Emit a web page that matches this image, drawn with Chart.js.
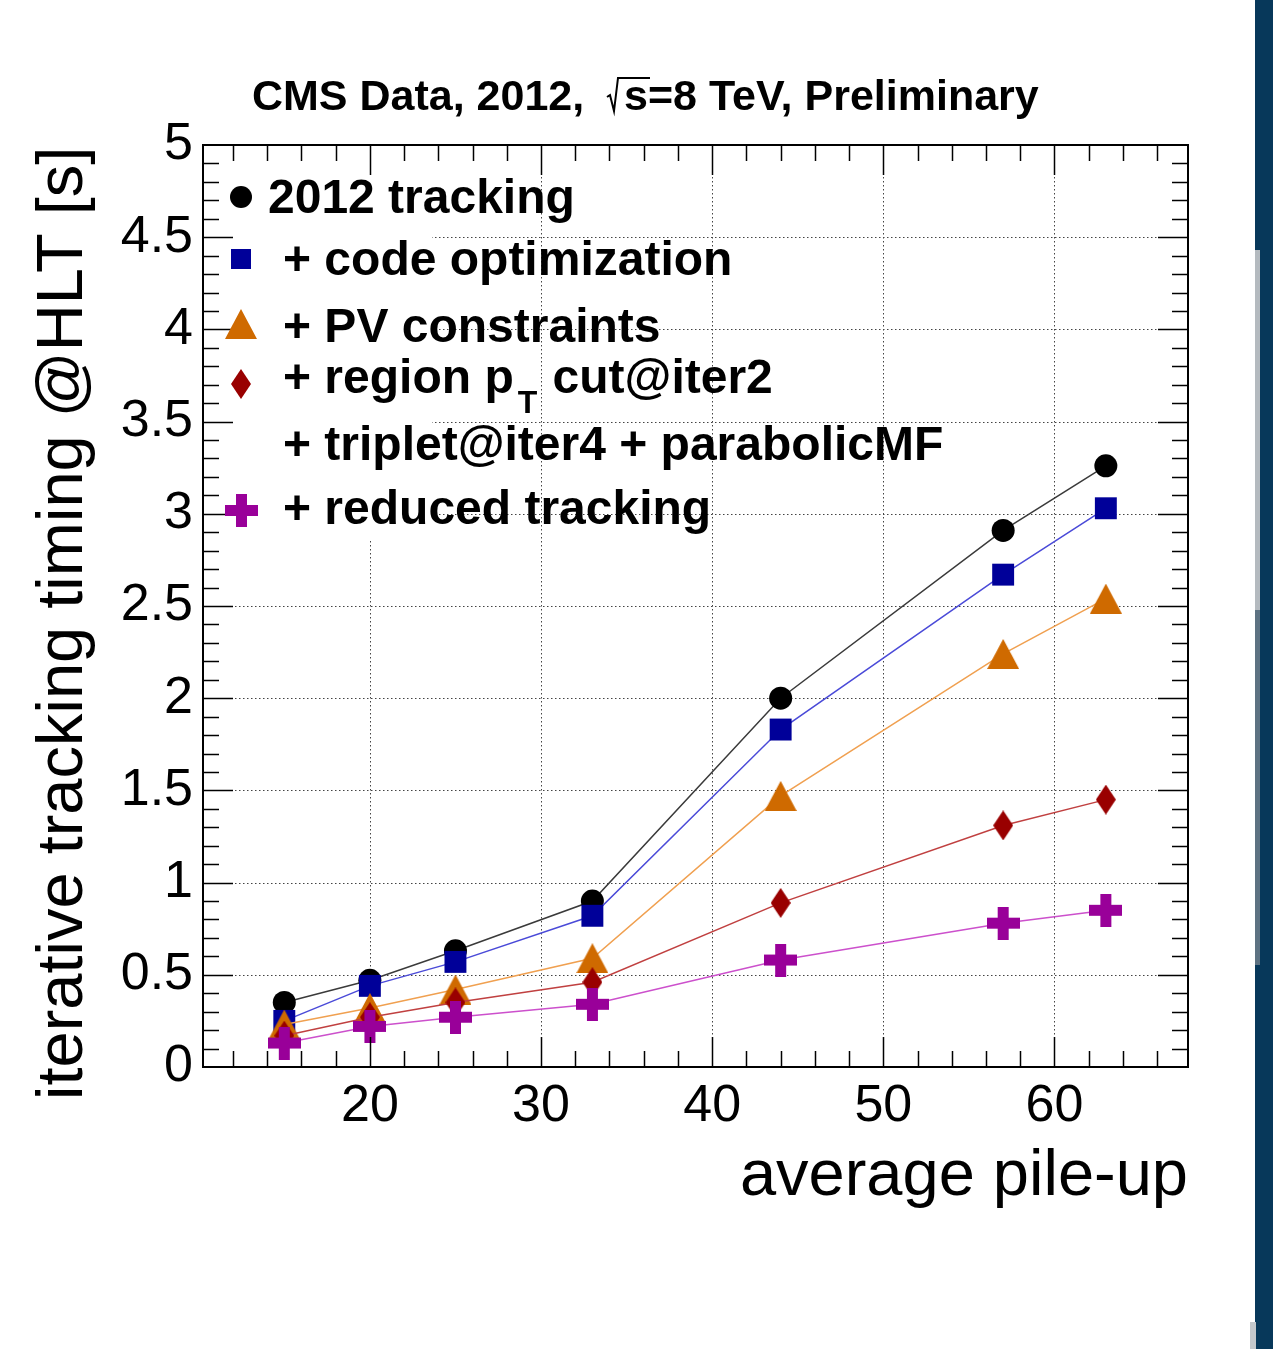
<!DOCTYPE html>
<html>
<head>
<meta charset="utf-8">
<title>Iterative tracking timing @HLT</title>
<script src="https://cdn.jsdelivr.net/npm/chart.js@4.4.0/dist/chart.umd.min.js"></script>
<style>
  html, body { margin: 0; padding: 0; background: #fff; }
  #wrap { position: relative; width: 1273px; height: 1349px; overflow: hidden; background: #fff; }
  #plot { position: absolute; left: 0; top: 0; }
  .strip { position: absolute; left: 1255px; top: 0; width: 18px; height: 1349px; background: #07385a; }
  .thumb1 { position: absolute; left: 1255px; top: 250px; width: 5px; height: 360px; background: #b4babf; }
  .thumb2 { position: absolute; left: 1255px; top: 610px; width: 5px; height: 355px; background: #5d7282; }
  .thumb3 { position: absolute; left: 1250px; top: 1322px; width: 6px; height: 27px; background: #c4c8cc; }
</style>
</head>
<body>
<div id="wrap">
  <canvas id="plot" width="1255" height="1349"></canvas>
  <div class="strip"></div>
  <div class="thumb1"></div>
  <div class="thumb2"></div>
  <div class="thumb3"></div>
</div>
<script>
// data
const pileUp = [15, 20, 25, 33, 44, 57, 63];
const tracking2012 = [0.35, 0.47, 0.63, 0.90, 2.00, 2.91, 3.26];
const codeOptim = [0.25, 0.44, 0.57, 0.82, 1.83, 2.67, 3.03];
const pvConstraints = [0.23, 0.32, 0.42, 0.59, 1.47, 2.24, 2.54];
const regionPtCut = [0.17, 0.27, 0.35, 0.46, 0.89, 1.31, 1.45];
const reducedTracking = [0.13, 0.22, 0.27, 0.34, 0.58, 0.78, 0.85];

const xTicks = [20, 30, 40, 50, 60];
const yTicks = [0, 0.5, 1, 1.5, 2, 2.5, 3, 3.5, 4, 4.5, 5];

const FONT = '"Liberation Sans", Arial, Helvetica, sans-serif';

// marker shapes (ROOT style)
function shape(w, h, fill, draw) {
  const c = document.createElement('canvas');
  c.width = w; c.height = h;
  const g = c.getContext('2d');
  g.fillStyle = fill;
  draw(g, w, h);
  return c;
}
const triangle = shape(32, 30, '#cf6a00', (g, w, h) => {
  g.beginPath(); g.moveTo(w / 2, 0); g.lineTo(w, h); g.lineTo(0, h); g.closePath(); g.fill();
});
const diamond = shape(20, 30, '#990000', (g, w, h) => {
  g.beginPath(); g.moveTo(w / 2, 0); g.lineTo(w, h / 2); g.lineTo(w / 2, h); g.lineTo(0, h / 2); g.closePath(); g.fill();
});
const cross = shape(33, 33, '#990099', (g, w, h) => {
  const t = 11;
  g.fillRect((w - t) / 2, 0, t, h);
  g.fillRect(0, (h - t) / 2, w, t);
});

function pts(ys) { return pileUp.map((x, i) => ({ x: x, y: ys[i] })); }

const series = [
  { label: '2012 tracking', data: tracking2012, line: '#3a3a3a', fill: '#000000', style: 'circle', r: 11.5 },
  { label: '+ code optimization', data: codeOptim, line: '#4a4ad8', fill: '#000099', style: 'rect', r: 15.5 },
  { label: '+ PV constraints', data: pvConstraints, line: '#f0a050', fill: '#cf6a00', style: triangle, r: 16 },
  { label: '+ region pT cut@iter2', data: regionPtCut, line: '#c04040', fill: '#990000', style: diamond, r: 15 },
  { label: '+ reduced tracking', data: reducedTracking, line: '#cc50cc', fill: '#990099', style: cross, r: 16 }
];

const rootPlugin = {
  id: 'rootPlugin',
  beforeDatasetsDraw(chart) {
    const ctx = chart.ctx, a = chart.chartArea;
    const xs = chart.scales.x, ys = chart.scales.y;
    ctx.save();
    ctx.strokeStyle = '#444';
    ctx.lineWidth = 1;
    ctx.setLineDash([1.5, 2.5]);
    xTicks.forEach(v => {
      const px = Math.round(xs.getPixelForValue(v)) + 0.5;
      ctx.beginPath(); ctx.moveTo(px, a.top); ctx.lineTo(px, a.bottom); ctx.stroke();
    });
    yTicks.slice(1, -1).forEach(v => {
      const py = Math.round(ys.getPixelForValue(v)) + 0.5;
      ctx.beginPath(); ctx.moveTo(a.left, py); ctx.lineTo(a.right, py); ctx.stroke();
    });
    ctx.setLineDash([]);
    // legend box (white) hides the grid behind the markers
    ctx.fillStyle = '#fff';
    ctx.fillRect(a.left, a.top, 432 - a.left, 540 - a.top);
    ctx.restore();
  },
  afterDraw(chart) {
    const ctx = chart.ctx, a = chart.chartArea;
    const xs = chart.scales.x, ys = chart.scales.y;
    ctx.save();
    // ticks on all four sides
    ctx.strokeStyle = '#000';
    ctx.lineWidth = 1.5;
    const major = 30, minor = 16;
    for (let v = 12; v <= 66; v += 2) {
      const px = Math.round(xs.getPixelForValue(v)) + 0.5;
      const len = (v % 10 === 0) ? major : minor;
      ctx.beginPath();
      ctx.moveTo(px, a.bottom); ctx.lineTo(px, a.bottom - len);
      ctx.moveTo(px, a.top); ctx.lineTo(px, a.top + len);
      ctx.stroke();
    }
    for (let k = 1; k < 50; k++) {
      const v = k / 10;
      const py = Math.round(ys.getPixelForValue(v)) + 0.5;
      const len = (k % 5 === 0) ? major : minor;
      ctx.beginPath();
      ctx.moveTo(a.left, py); ctx.lineTo(a.left + len, py);
      ctx.moveTo(a.right, py); ctx.lineTo(a.right - len, py);
      ctx.stroke();
    }
    // frame
    ctx.lineWidth = 2;
    ctx.strokeRect(a.left, a.top, a.right - a.left, a.bottom - a.top);

    // title
    ctx.fillStyle = '#000';
    ctx.textBaseline = 'alphabetic';
    ctx.textAlign = 'left';
    ctx.font = 'bold 43px ' + FONT;
    ctx.fillText('CMS Data, 2012,', 252, 110);
    ctx.fillText('s=8 TeV, Preliminary', 624, 110);
    ctx.lineWidth = 2;
    ctx.beginPath();
    ctx.moveTo(607, 97); ctx.lineTo(610, 95); ctx.lineTo(614, 111);
    ctx.lineTo(618, 78); ctx.lineTo(650, 78);
    ctx.stroke();

    // axis titles
    ctx.font = '65px ' + FONT;
    ctx.textAlign = 'right';
    ctx.fillText('average pile-up', a.right, 1195);
    ctx.save();
    ctx.translate(82, 1100);
    ctx.rotate(-Math.PI / 2);
    ctx.textAlign = 'left';
    ctx.font = '65px ' + FONT;
    ctx.fillText('iterative tracking timing @HLT [s]', 0, 0);
    ctx.restore();

    // legend
    const mx = 241;
    ctx.fillStyle = '#000';
    ctx.beginPath(); ctx.arc(mx, 197, 11, 0, Math.PI * 2); ctx.fill();
    ctx.fillStyle = '#000099';
    ctx.fillRect(mx - 10, 249, 20, 20);
    ctx.drawImage(triangle, mx - 16, 309);
    ctx.drawImage(diamond, mx - 10, 369);
    ctx.drawImage(cross, mx - 16, 494);

    ctx.fillStyle = '#000';
    ctx.textAlign = 'left';
    ctx.font = 'bold 48px ' + FONT;
    ctx.fillText('2012 tracking', 268, 213);
    ctx.fillText('+ code optimization', 283, 275);
    ctx.fillText('+ PV constraints', 283, 342);
    const p1 = '+ region p';
    ctx.fillText(p1, 283, 393);
    let xx = 283 + ctx.measureText(p1).width + 4;
    ctx.font = 'bold 32px ' + FONT;
    ctx.fillText('T', xx, 413);
    xx += ctx.measureText('T').width + 2;
    ctx.font = 'bold 48px ' + FONT;
    ctx.fillText(' cut@iter2', xx, 393);
    ctx.fillText('+ triplet@iter4 + parabolicMF', 283, 460);
    ctx.fillText('+ reduced tracking', 283, 524);
    ctx.restore();
  }
};

new Chart(document.getElementById('plot').getContext('2d'), {
  type: 'scatter',
  data: {
    datasets: series.map((s, i) => ({
      label: s.label,
      data: pts(s.data),
      showLine: true,
      borderColor: s.line,
      borderWidth: 1.5,
      backgroundColor: s.fill,
      pointBackgroundColor: s.fill,
      pointBorderColor: s.fill,
      pointBorderWidth: 0,
      pointStyle: s.style,
      pointRadius: s.r,
      pointHoverRadius: s.r,
      order: series.length - i
    }))
  },
  options: {
    responsive: false,
    animation: false,
    devicePixelRatio: 1,
    layout: { padding: { top: 145, right: 67, left: 0, bottom: 0 } },
    plugins: {
      legend: { display: false },
      title: { display: false },
      tooltip: { enabled: false }
    },
    scales: {
      x: {
        type: 'linear',
        min: 10.25,
        max: 67.8,
        grid: { display: false, drawTicks: false },
        border: { display: false },
        afterBuildTicks(scale) { scale.ticks = xTicks.map(v => ({ value: v })); },
        afterFit(scale) { scale.height = 282; },
        ticks: {
          color: '#000',
          padding: 8,
          maxRotation: 0,
          font: { family: FONT, size: 52 },
          callback: v => String(v)
        }
      },
      y: {
        type: 'linear',
        min: 0,
        max: 5,
        grid: { display: false, drawTicks: false },
        border: { display: false },
        afterBuildTicks(scale) { scale.ticks = yTicks.map(v => ({ value: v })); },
        afterFit(scale) { scale.width = 203; },
        ticks: {
          color: '#000',
          padding: 10,
          font: { family: FONT, size: 52 },
          callback: v => String(v)
        }
      }
    }
  },
  plugins: [rootPlugin]
});
</script>
</body>
</html>
